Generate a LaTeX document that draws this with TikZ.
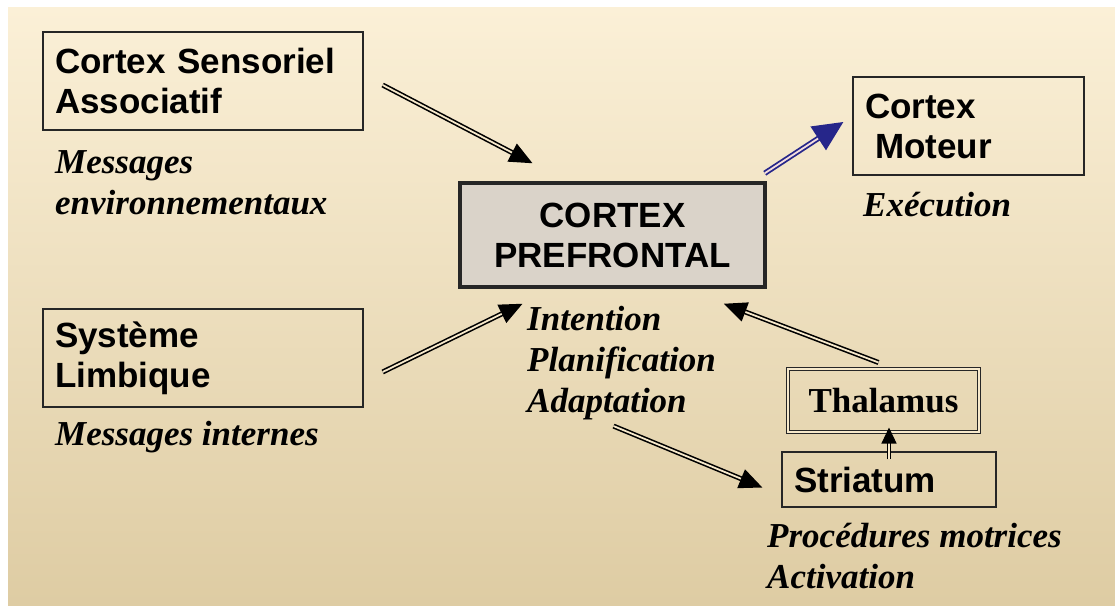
\documentclass[tikz,border=0pt]{standalone}
\usepackage{fontspec}
\setmainfont{Liberation Serif}
\setsansfont{Liberation Sans}
\usetikzlibrary{arrows.meta}

\definecolor{bgtop}{RGB}{251,240,215}
\definecolor{bgmid}{RGB}{247,233,203}
\definecolor{bgbot}{RGB}{222,204,163}
\definecolor{pfcgray}{RGB}{218,211,201}
\definecolor{motblue}{RGB}{38,38,138}
\definecolor{motpink}{RGB}{244,222,222}

\tikzset{
  box/.style={draw=black!85, line width=1.3pt, inner sep=0pt, font=\sffamily\bfseries\fontsize{35}{40}\selectfont},
  lbl/.style={anchor=west, inner sep=0pt, align=left, font=\bfseries\itshape\fontsize{35}{41}\selectfont},
  dbl/.style={line width=1.6pt, double=bgmid, double distance=1.8pt, -{Triangle[length=23pt,width=20pt]}},
}

\begin{document}
\begin{tikzpicture}[x=1pt, y=-1pt]
	\fill[white] (0,0) rectangle (1115,605);
	\useasboundingbox (0,0) rectangle (1115,605);
	\shade[top color=bgtop, middle color=bgmid, bottom color=bgbot] (8,7) rectangle (1115,605);

	\node[box, minimum width=320pt, minimum height=98pt, text width=296pt, align=left] (csa) at (203,81) {Cortex Sensoriel\\Associatif};
	\node[lbl] (msgenv) at (55,183) {Messages\\environnementaux};
	\node[box, minimum width=320pt, minimum height=98pt, text width=296pt, align=left] (sl) at (203,358) {Système\\Limbique};
	\node[lbl] (msgint) at (55,437) {Messages internes};
	\node[box, minimum width=231pt, minimum height=98pt, text width=207pt, align=left] (cm) at (968.5,126) {Cortex\\\hspace{10pt}Moteur};
	\node[lbl] (exec) at (863,205) {Exécution};
	\node[box, fill=pfcgray, line width=3.5pt, minimum width=305pt, minimum height=104pt, align=center] (pfc) at (612.5,235) {CORTEX\\PREFRONTAL};
	\node[lbl] (plan) at (527,363) {Intention\\Planification\\Adaptation};
	\node[box, double=bgmid, double distance=1.5pt, line width=1pt, minimum width=191pt, minimum height=63pt, font=\bfseries\fontsize{35}{40}\selectfont] (thal) at (883.5,400.5) {Thalamus};
	\node[box, minimum width=214pt, minimum height=55pt, text width=190pt, align=left] (stri) at (889,479.5) {Striatum};
	\node[lbl] (proc) at (767,556) {Procédures motrices\\Activation};

	\draw[dbl] ([xshift=19pt,yshift=-4pt]csa.east) -- ([xshift=-80pt,yshift=18pt]pfc.north);
	\draw[dbl] ([xshift=19pt,yshift=-14pt]sl.east) -- ([xshift=-90pt,yshift=-15pt]pfc.south);
	\draw[dbl] ([xshift=-8pt,yshift=-6pt]plan.south) -- ([xshift=-19pt,yshift=-8pt]stri.west);
	\draw[dbl, line width=1.2pt, double distance=1.4pt, -{Triangle[length=16pt,width=15pt]}] ([yshift=-8pt]stri.north) -- ([yshift=5pt]thal.south -| stri.north);
	\draw[dbl] ([xshift=-5pt,yshift=6pt]thal.north) -- ([xshift=-43pt,yshift=-15pt]pfc.south east);
	\draw[dbl, line width=1.8pt, draw=motblue, double=motpink, -{Triangle[length=30pt,width=28pt]}] ([xshift=-2pt,yshift=8pt]pfc.north east) -- ([xshift=-9pt,yshift=4pt]cm.west);
\end{tikzpicture}
\end{document}
